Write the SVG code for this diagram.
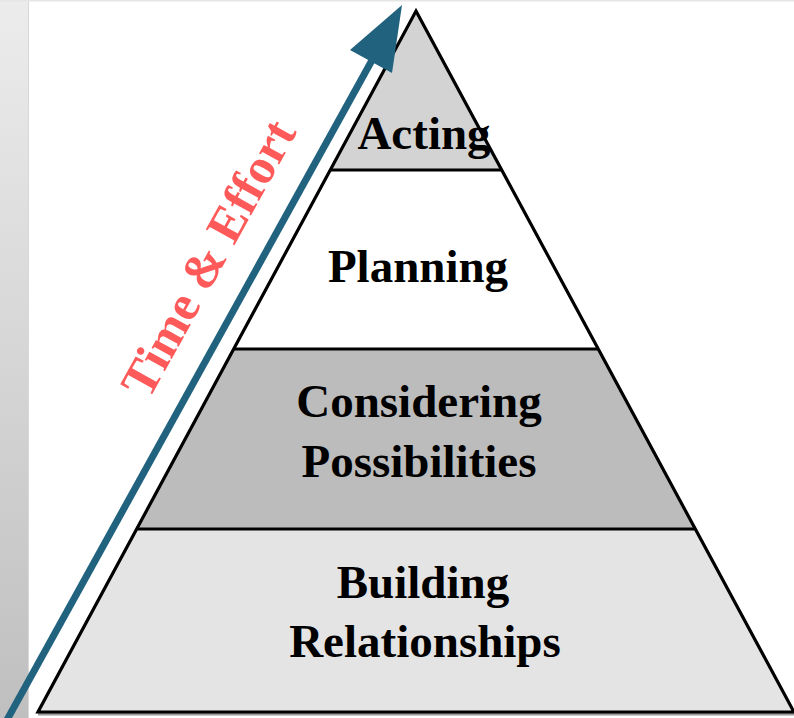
<svg xmlns="http://www.w3.org/2000/svg" width="794" height="718" viewBox="0 0 794 718">
  <defs>
    <linearGradient id="strip" x1="0" y1="0" x2="0" y2="1">
      <stop offset="0" stop-color="#ececec"/>
      <stop offset="1" stop-color="#bfbfbf"/>
    </linearGradient>
    <style>
      .lbl { font-family: "Liberation Serif", "Times New Roman", serif; font-weight: bold; font-size: 47px; fill: #000; text-anchor: middle; }
      .edge { fill: none; stroke: #000; stroke-width: 3.2; stroke-linejoin: miter; }
      .shadow { fill: none; stroke: #9a9a9a; stroke-width: 3; }
    </style>
  </defs>
  <rect x="0" y="0" width="794" height="718" fill="#ffffff"/>
  <rect x="0" y="0" width="28" height="718" fill="url(#strip)"/>
  <line x1="28.5" y1="0" x2="28.5" y2="718" stroke="#d8d8d8" stroke-width="1"/>
  <rect x="0" y="0" width="794" height="1.5" fill="#e6e6e6"/>

  <g id="pyramid-shadow">
    <polyline class="shadow" points="331,172 503,172"/>
    <polyline class="shadow" points="234,351 600,351"/>
    <polyline class="shadow" points="137,531 697,531"/>
    <polyline class="shadow" points="38,714 794,714"/>
  </g>

  <g id="acting">
    <polygon points="416,11 330.3,170 501.7,170" fill="#d3d3d3"/>
    <text class="lbl" x="424" y="149">Acting</text>
  </g>
  <g id="planning">
    <polygon points="330.3,170 501.7,170 598.3,349 233.7,349" fill="#ffffff"/>
    <text class="lbl" x="418" y="282">Planning</text>
  </g>
  <g id="considering">
    <polygon points="233.7,349 598.3,349 695.3,529 136.7,529" fill="#bcbcbc"/>
    <text class="lbl" x="419" y="417">Considering</text>
    <text class="lbl" x="419" y="477">Possibilities</text>
  </g>
  <g id="building">
    <polygon points="136.7,529 695.3,529 794,712 38,712" fill="#e4e4e4"/>
    <text class="lbl" x="423" y="598">Building</text>
    <text class="lbl" x="425" y="657">Relationships</text>
  </g>

  <g id="outline">
    <polygon class="edge" points="416,11 794,712 38,712"/>
    <line class="edge" x1="330.3" y1="170" x2="501.7" y2="170"/>
    <line class="edge" x1="233.7" y1="349" x2="598.3" y2="349"/>
    <line class="edge" x1="136.7" y1="529" x2="695.3" y2="529"/>
  </g>

  <g id="connectors">
    <line x1="3.6" y1="726" x2="376" y2="53" stroke="#21637f" stroke-width="7"/>
    <polygon points="402,5 350,50 392,73" fill="#21637f"/>
  </g>

  <g id="time-effort">
    <text x="208" y="258" transform="rotate(-61.05 208 258)" dy="17" font-family="Liberation Serif, Times New Roman, serif" font-weight="bold" font-size="50" fill="#ff5a5a" text-anchor="middle">Time &amp; Effort</text>
  </g>
</svg>
